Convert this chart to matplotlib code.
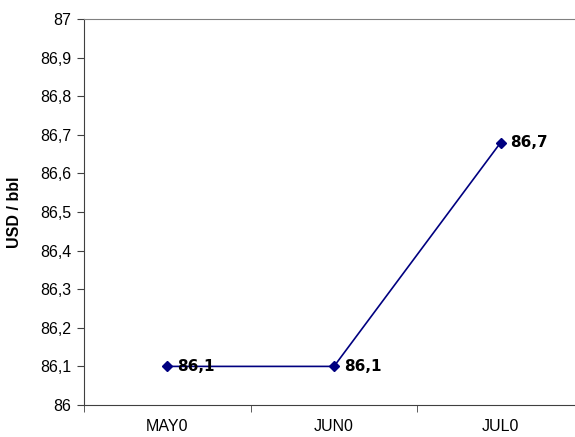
import numpy as np
import matplotlib.pyplot as plt
from matplotlib.ticker import FixedLocator, FuncFormatter

months = ['MAY0', 'JUN0', 'JUL0']
prices = [86.1, 86.1, 86.68]
labels = ['86,1', '86,1', '86,7']

plt.rcParams['font.family'] = ['Liberation Sans', 'DejaVu Sans']

fig = plt.figure(figsize=(5.75, 4.37), dpi=100)
ax = fig.add_axes([84 / 575, 32 / 437, 500 / 575, 386 / 437])

x = np.arange(len(months))
ax.plot(x, prices, color='#000080', lw=1.2, marker='D', ms=5.5, mfc='#000080', mec='#000080')
for xi, yi, lab in zip(x, prices, labels):
    ax.annotate(lab, (xi, yi), xytext=(7, 0), textcoords='offset points',
                va='center', ha='left', fontsize=11, fontweight='bold',
                family='DejaVu Sans')

ax.set_xlim(-0.5, 2.5)
ax.set_ylim(86, 87)
ax.set_yticks(np.round(np.arange(86, 87.01, 0.1), 1))


def fmt(v, pos):
    s = f"{v:.1f}".replace('.', ',')
    return s[:-2] if s.endswith(',0') else s


ax.yaxis.set_major_formatter(FuncFormatter(fmt))
ax.set_xticks(x)
ax.set_xticklabels(months)
ax.xaxis.set_minor_locator(FixedLocator([-0.5, 0.5, 1.5, 2.5]))
ax.tick_params(axis='x', which='major', length=0, pad=10, labelsize=11.5)
ax.tick_params(axis='x', which='minor', length=5, color='#404040')
ax.tick_params(axis='y', length=5, color='#404040', labelsize=11.5, pad=4)

ax.spines['right'].set_visible(False)
ax.spines['top'].set_color('#808080')
ax.spines['left'].set_color('#404040')
ax.spines['bottom'].set_color('#404040')

ax.set_ylabel('USD / bbl', fontsize=11.5, fontweight='bold', labelpad=13)

fig.savefig('out.png', dpi=100)
